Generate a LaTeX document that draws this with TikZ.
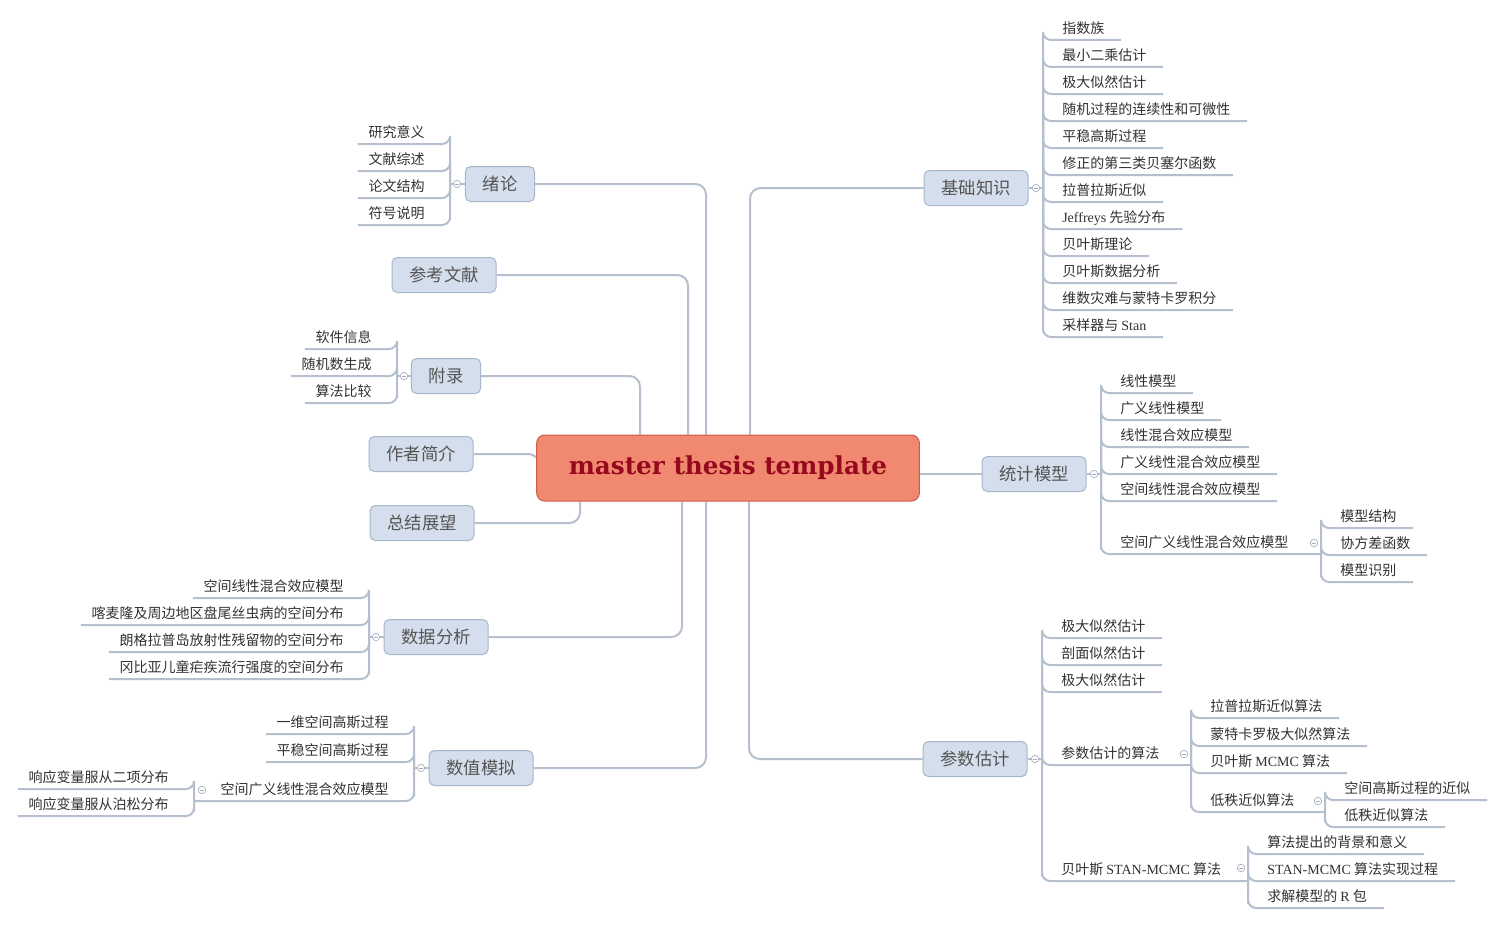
\documentclass[tikz,border=0pt]{standalone}
\usepackage{fontspec}
\setmainfont{Noto Sans CJK SC}
\newfontfamily\lat{Liberation Serif}
\newfontfamily\titlefont{DejaVu Serif}
\usetikzlibrary{calc}
\pgfdeclarelayer{bg}
\pgfdeclarelayer{paper}
\pgfsetlayers{paper,bg,main}
\definecolor{lc}{RGB}{182,191,206}
\definecolor{boxfill}{RGB}{213,222,236}
\definecolor{boxdraw}{RGB}{168,182,204}
\definecolor{cenfill}{RGB}{240,137,112}
\definecolor{cendraw}{RGB}{205,92,72}
\definecolor{centext}{RGB}{150,8,30}
\definecolor{txt}{RGB}{50,50,50}
\definecolor{btxt}{RGB}{85,85,85}
\definecolor{collc}{RGB}{165,174,190}
\tikzset{
  conn/.style={draw=lc, line width=1.5pt, rounded corners=6pt},
  leaf/.style={inner xsep=0pt, inner ysep=0pt, text height=8pt, text depth=5pt,
    font=\fontsize{10.5}{12}\selectfont, text=txt},
  box/.style={draw=boxdraw, fill=boxfill, line width=0.75pt, rounded corners=4pt,
    minimum height=26.25pt, inner xsep=13pt, inner ysep=0pt,
    font=\fontsize{13}{15}\selectfont, text=btxt},
  cen/.style={draw=cendraw, fill=cenfill, line width=0.75pt, rounded corners=6pt,
    minimum width=287pt, minimum height=49.5pt,
    font=\titlefont\bfseries\fontsize{18.5}{20}\selectfont, text=centext}
}
% right leaf: name, parent coord, bracket x, underline y, text
\newcommand\rleaf[5]{%
  \node[leaf, anchor=south west] (#1) at (#3+19,#4) {#5};
  \begin{pgfonlayer}{bg}
  \draw[conn] (#2) |- ([xshift=-14.25pt]#1.south west) -- ([xshift=12.5pt]#1.south east);
  \end{pgfonlayer}}
% right leaf with children: ..., sub-parent coord
\newcommand\rleafs[6]{%
  \node[leaf, anchor=south west] (#1) at (#3+19,#4) {#5};
  \begin{pgfonlayer}{bg}
  \draw[conn] (#2) |- ([xshift=-14.25pt]#1.south west) -- (#6);
  \end{pgfonlayer}}
% left leaf
\newcommand\lleaf[5]{%
  \node[leaf, anchor=south east] (#1) at (#3-25,#4) {#5};
  \begin{pgfonlayer}{bg}
  \draw[conn] (#2) |- ([xshift=18.75pt]#1.south east) -- ([xshift=-8pt]#1.south west);
  \end{pgfonlayer}}
\newcommand\lleafs[6]{%
  \node[leaf, anchor=south east] (#1) at (#3-25,#4) {#5};
  \begin{pgfonlayer}{bg}
  \draw[conn] (#2) |- ([xshift=18.75pt]#1.south east) -- (#6);
  \end{pgfonlayer}}
\newcommand\coll[2]{%
  \filldraw[fill=white, draw=collc, line width=0.5pt] (#1,#2) circle[radius=2.8pt];
  \draw[collc, line width=0.5pt] (#1-2.3,#2) -- (#1+2.3,#2);}

\begin{document}
\begin{tikzpicture}[x=0.75pt,y=-0.75pt]
\useasboundingbox (0,0) rectangle (1505,924);
\begin{pgfonlayer}{paper}
\fill[white] (0,0) rectangle (1505,924);
\end{pgfonlayer}

% central and main boxes
\node[cen] (cen) at (728,468) {master thesis template};
\node[box] (xl) at (500,184) {绪论};
\node[box] (ck) at (444,275) {参考文献};
\node[box] (fl) at (446,376) {附录};
\node[box] (zz) at (421,454) {作者简介};
\node[box] (zj) at (422,523) {总结展望};
\node[box] (sj) at (436,637) {数据分析};
\node[box] (sz) at (481,768) {数值模拟};
\node[box] (jc) at (976,188) {基础知识};
\node[box] (tj) at (1034,474) {统计模型};
\node[box] (cg) at (975,759) {参数估计};

% main connectors
\begin{pgfonlayer}{bg}
\draw[conn, rounded corners=8pt] (xl.east) -| (cen.north -| 706,0);
\draw[conn, rounded corners=8pt] (ck.east) -| (cen.north -| 688,0);
\draw[conn, rounded corners=8pt] (fl.east) -| (cen.north -| 640,0);
\draw[conn, rounded corners=10pt] (zz.east) -| (541,468);
\draw[conn, rounded corners=8pt] (zj.east) -| (cen.south -| 580,0);
\draw[conn, rounded corners=8pt] (sj.east) -| (cen.south -| 682,0);
\draw[conn, rounded corners=8pt] (sz.east) -| (cen.south -| 706,0);
\draw[conn, rounded corners=8pt] (jc.west) -| (cen.north -| 750,0);
\draw[conn] (tj.west) -- (tj.west -| cen.east);
\draw[conn, rounded corners=8pt] (cg.west) -| (cen.south -| 749,0);
\end{pgfonlayer}

% parent points
\coordinate (xlP) at (450,184);
\coordinate (flP) at (397,376);
\coordinate (sjP) at (369,637);
\coordinate (szP) at (414,768);
\coordinate (z3P) at (194,801);
\coordinate (jcP) at (1043,188);
\coordinate (tjP) at (1101,474);
\coordinate (t6P) at (1321,554);
\coordinate (cgP) at (1042,759);
\coordinate (c4P) at (1191,765);
\coordinate (c44P) at (1325,812);
\coordinate (c5P) at (1248,881);

\begin{pgfonlayer}{bg}
\draw[conn] (xl.west) -- (xlP);
\draw[conn] (fl.west) -- (flP);
\draw[conn] (sj.west) -- (sjP);
\draw[conn] (sz.west) -- (szP);
\draw[conn] (jc.east) -- (jcP);
\draw[conn] (tj.east) -- (tjP);
\draw[conn] (cg.east) -- (cgP);
\end{pgfonlayer}

% 绪论
\lleaf{x1}{xlP}{450}{144}{研究意义}
\lleaf{x2}{xlP}{450}{171}{文献综述}
\lleaf{x3}{xlP}{450}{198}{论文结构}
\lleaf{x4}{xlP}{450}{225}{符号说明}
% 附录
\lleaf{f1}{flP}{397}{349}{软件信息}
\lleaf{f2}{flP}{397}{376}{随机数生成}
\lleaf{f3}{flP}{397}{403}{算法比较}
% 数据分析
\lleaf{s1}{sjP}{369}{598}{空间线性混合效应模型}
\lleaf{s2}{sjP}{369}{625}{喀麦隆及周边地区盘尾丝虫病的空间分布}
\lleaf{s3}{sjP}{369}{652}{朗格拉普岛放射性残留物的空间分布}
\lleaf{s4}{sjP}{369}{679}{冈比亚儿童疟疾流行强度的空间分布}
% 数值模拟
\lleaf{z1}{szP}{414}{734}{一维空间高斯过程}
\lleaf{z2}{szP}{414}{762}{平稳空间高斯过程}
\lleafs{z3}{szP}{414}{801}{空间广义线性混合效应模型}{z3P}
\lleaf{z31}{z3P}{194}{789}{响应变量服从二项分布}
\lleaf{z32}{z3P}{194}{816}{响应变量服从泊松分布}

% 基础知识
\rleaf{j1}{jcP}{1043}{40}{指数族}
\rleaf{j2}{jcP}{1043}{67}{最小二乘估计}
\rleaf{j3}{jcP}{1043}{94}{极大似然估计}
\rleaf{j4}{jcP}{1043}{121}{随机过程的连续性和可微性}
\rleaf{j5}{jcP}{1043}{148}{平稳高斯过程}
\rleaf{j6}{jcP}{1043}{175}{修正的第三类贝塞尔函数}
\rleaf{j7}{jcP}{1043}{202}{拉普拉斯近似}
\rleaf{j8}{jcP}{1043}{229}{{\lat Jeffreys} 先验分布}
\rleaf{j9}{jcP}{1043}{256}{贝叶斯理论}
\rleaf{j10}{jcP}{1043}{283}{贝叶斯数据分析}
\rleaf{j11}{jcP}{1043}{310}{维数灾难与蒙特卡罗积分}
\rleaf{j12}{jcP}{1043}{337}{采样器与 {\lat Stan}}

% 统计模型
\rleaf{t1}{tjP}{1101}{393}{线性模型}
\rleaf{t2}{tjP}{1101}{420}{广义线性模型}
\rleaf{t3}{tjP}{1101}{447}{线性混合效应模型}
\rleaf{t4}{tjP}{1101}{474}{广义线性混合效应模型}
\rleaf{t5}{tjP}{1101}{501}{空间线性混合效应模型}
\rleafs{t6}{tjP}{1101}{554}{空间广义线性混合效应模型}{t6P}
\rleaf{t61}{t6P}{1321}{528}{模型结构}
\rleaf{t62}{t6P}{1321}{555}{协方差函数}
\rleaf{t63}{t6P}{1321}{582}{模型识别}

% 参数估计
\rleaf{c1}{cgP}{1042}{638}{极大似然估计}
\rleaf{c2}{cgP}{1042}{665}{剖面似然估计}
\rleaf{c3}{cgP}{1042}{692}{极大似然估计}
\rleafs{c4}{cgP}{1042}{765}{参数估计的算法}{c4P}
\rleaf{c41}{c4P}{1191}{718}{拉普拉斯近似算法}
\rleaf{c42}{c4P}{1191}{746}{蒙特卡罗极大似然算法}
\rleaf{c43}{c4P}{1191}{773}{贝叶斯 {\lat MCMC} 算法}
\rleafs{c44}{c4P}{1191}{812}{低秩近似算法}{c44P}
\rleaf{c441}{c44P}{1325}{800}{空间高斯过程的近似}
\rleaf{c442}{c44P}{1325}{827}{低秩近似算法}
\rleafs{c5}{cgP}{1042}{881}{贝叶斯 {\lat STAN-MCMC} 算法}{c5P}
\rleaf{c51}{c5P}{1248}{854}{算法提出的背景和意义}
\rleaf{c52}{c5P}{1248}{881}{{\lat STAN-MCMC} 算法实现过程}
\rleaf{c53}{c5P}{1248}{908}{求解模型的 {\lat R} 包}

% collapse markers
\coll{457}{184}
\coll{404}{376}
\coll{376}{637}
\coll{421}{768}
\coll{202}{790}
\coll{1036}{188}
\coll{1094}{474}
\coll{1314}{543}
\coll{1035}{759}
\coll{1184}{754}
\coll{1318}{801}
\coll{1241}{868}
\end{tikzpicture}
\end{document}
